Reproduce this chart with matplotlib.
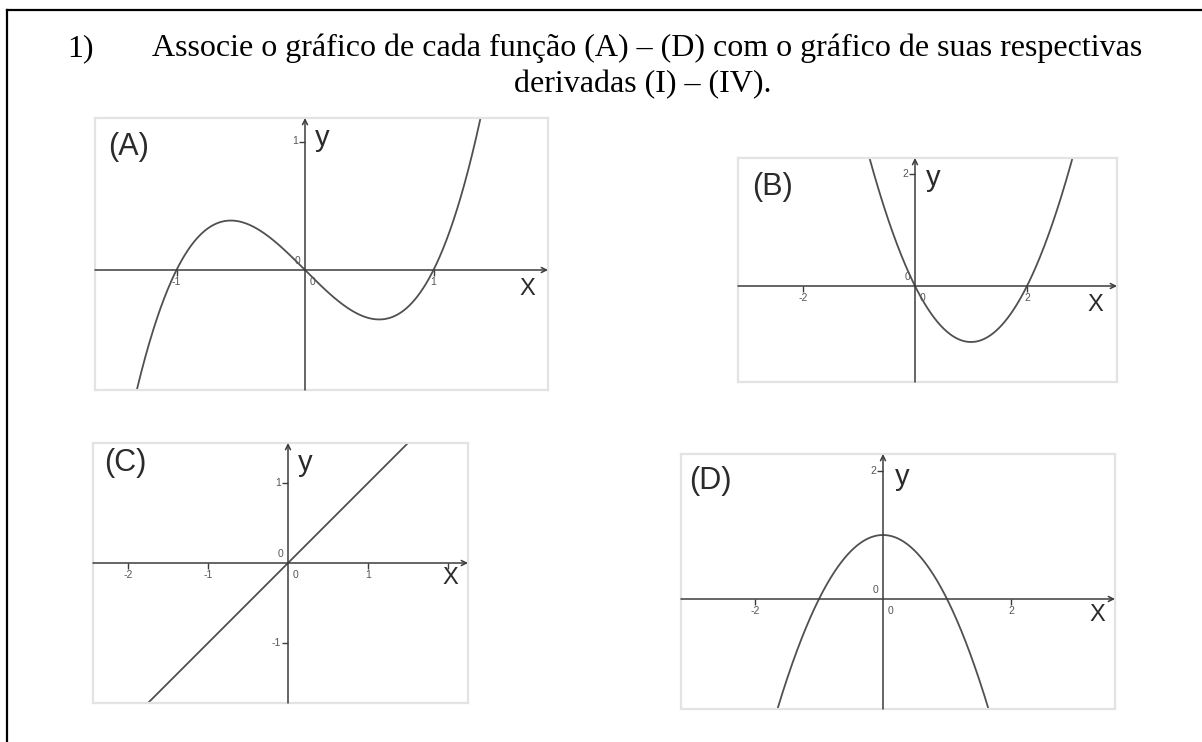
import numpy as np
import matplotlib
matplotlib.use("Agg")
import matplotlib.pyplot as plt
from matplotlib.lines import Line2D

W, H = 1202, 742

# Polynomial coefficients of each function (highest power first)
coef_A = [1, 0, -1, 0]      # x^3 - x
coef_B = [1, -2, 0]         # x^2 - 2x
coef_C = [1, 0]             # x
coef_D = [-1, 0, 1]         # 1 - x^2

# Labelled ticks on each graph
xticks_A, yticks_A = [-1, 1], [1]
xticks_B, yticks_B = [-2, 2], [2]
xticks_C, yticks_C = [-2, -1, 1, 2], [1, -1]
xticks_D, yticks_D = [-2, 2], [2]
hidden_xlabels_C = [2]

panel_names = ["(A)", "(B)", "(C)", "(D)"]

title_num = "1)"
title_line1 = "Associe o gráfico de cada função (A) – (D) com o gráfico de suas respectivas"
title_line2 = "derivadas (I) – (IV)."

FRAME = "#e3e3e3"
AXIS = "#3c3c3c"
CURVE = "#505050"
TEXT = "#2b2b2b"

fig = plt.figure(figsize=(W / 100, H / 100), dpi=100)
fig.patch.set_facecolor("white")


def fx(px):
    return px / W


def fy(py):
    return 1 - py / H


# outer page border (top and left rules)
fig.add_artist(Line2D([fx(7), fx(1202)], [fy(10), fy(10)], color="black", lw=1.6))
fig.add_artist(Line2D([fx(7), fx(7)], [fy(10), fy(742)], color="black", lw=1.6))

# heading
serif = ["Liberation Serif", "DejaVu Serif"]
fig.text(fx(67), fy(56), title_num, family=serif, fontsize=23, color="black",
         ha="left", va="baseline")
fig.text(fx(152), fy(56), title_line1, family=serif, fontsize=23, color="black",
         ha="left", va="baseline")
fig.text(fx(643), fy(92), title_line2, family=serif, fontsize=23, color="black",
         ha="center", va="baseline")


def panel(box, origin, unit, coef, xt, yt, name, name_pos, x_pos, y_pos,
          hide_x=()):
    left, top, right, bottom = box
    ox, oy = origin
    ax = fig.add_axes([fx(left), fy(bottom), (right - left) / W, (bottom - top) / H])
    xmin, xmax = (left - ox) / unit, (right - ox) / unit
    ymin, ymax = (oy - bottom) / unit, (oy - top) / unit
    ax.set_xlim(xmin, xmax)
    ax.set_ylim(ymin, ymax)
    ax.set_xticks([])
    ax.set_yticks([])
    for s in ax.spines.values():
        s.set_color(FRAME)
        s.set_linewidth(1.6)

    # coordinate axes with arrow heads
    arrow = dict(arrowstyle="->", color=AXIS, lw=1.1, shrinkA=0, shrinkB=0,
                 mutation_scale=9)
    ax.annotate("", xy=(xmax, 0), xytext=(xmin, 0), arrowprops=arrow)
    ax.annotate("", xy=(0, ymax), xytext=(0, ymin), arrowprops=arrow)

    # ticks
    ax.plot(xt, np.zeros(len(xt)), ls="none", marker=3, ms=4, mew=1, color=AXIS)
    ax.plot(np.zeros(len(yt)), yt, ls="none", marker=0, ms=4, mew=1, color=AXIS)
    tick_kw = dict(fontsize=7.5, color="#555555", family="Liberation Sans")
    for t in xt:
        if t in hide_x:
            continue
        ax.annotate(f"{t:g}", (t, 0), xytext=(0, -5), textcoords="offset points",
                    ha="center", va="top", **tick_kw)
    for t in yt:
        ax.annotate(f"{t:g}", (0, t), xytext=(-5, 0), textcoords="offset points",
                    ha="right", va="center", **tick_kw)
    ax.annotate("0", (0, 0), xytext=(-3, 3), textcoords="offset points",
                ha="right", va="bottom", **tick_kw)
    ax.annotate("0", (0, 0), xytext=(3, -5), textcoords="offset points",
                ha="left", va="top", **tick_kw)

    # the function
    xs = np.linspace(xmin, xmax, 800)
    ax.plot(xs, np.polyval(coef, xs), color=CURVE, lw=1.3, solid_capstyle="round")

    sans = ["Liberation Sans", "DejaVu Sans"]
    fig.text(fx(name_pos[0]), fy(name_pos[1]), name, family=sans, fontsize=22,
             color=TEXT, ha="center", va="center")
    fig.text(fx(x_pos[0]), fy(x_pos[1]), "X", family=sans, fontsize=17,
             color=TEXT, ha="center", va="center")
    fig.text(fx(y_pos[0]), fy(y_pos[1]), "y", family=sans, fontsize=21,
             color=TEXT, ha="center", va="center")
    return ax


panel((95, 118, 548, 390), (305, 270), 128.5, coef_A, xticks_A, yticks_A,
      panel_names[0], (129, 147), (527, 289), (322, 138))
panel((738, 158, 1117, 382), (915, 286), 56, coef_B, xticks_B, yticks_B,
      panel_names[1], (772, 187), (1095, 305), (933, 178))
panel((93, 443, 468, 703), (288, 563), 80, coef_C, xticks_C, yticks_C,
      panel_names[2], (125, 463), (450, 578), (305, 463),
      hide_x=hidden_xlabels_C)
panel((681, 454, 1115, 709), (883, 599), 64, coef_D, xticks_D, yticks_D,
      panel_names[3], (710, 481), (1097, 615), (902, 477))

fig.savefig("out.png", dpi=100, facecolor="white")
